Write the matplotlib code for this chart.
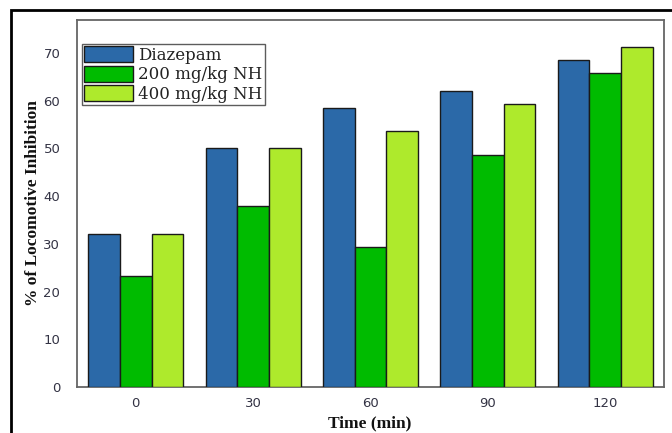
import matplotlib
matplotlib.use("Agg")
import matplotlib.pyplot as plt
import numpy as np
from matplotlib.patches import Rectangle

categories = ["0", "30", "60", "90", "120"]
diazepam = [32.1, 50.1, 58.5, 62.1, 68.6]
nh200 = [23.3, 37.9, 29.4, 48.6, 65.8]
nh400 = [32.1, 50.1, 53.7, 59.3, 71.3]
series_names = ["Diazepam", "200 mg/kg NH", "400 mg/kg NH"]
yticks = [0, 10, 20, 30, 40, 50, 60, 70]

colors = ["#2B69A8", "#00BB00", "#AEEA2C"]

W, H = 672, 433
fig = plt.figure(figsize=(W / 100, H / 100), dpi=100)
ax = fig.add_axes([77 / W, 1 - 387 / H, (664 - 77) / W, (387 - 20) / H])

x = np.arange(len(categories))
bw = 0.27
for i, (vals, name, c) in enumerate(zip([diazepam, nh200, nh400], series_names, colors)):
    ax.bar(x + (i - 1) * bw, vals, bw, color=c, edgecolor="#1a1a1a", linewidth=1.0,
           label=name, zorder=3)

ax.set_xlim(-0.5, len(categories) - 0.5)
ax.set_ylim(0, 76.9)
ax.set_xticks(x)
ax.set_xticklabels(categories, family="DejaVu Sans")
ax.set_yticks(yticks)
ax.set_yticklabels([str(v) for v in yticks], family="DejaVu Sans")
ax.tick_params(axis="both", length=0, colors="#333344", labelsize=9.5)
ax.tick_params(axis="x", pad=7)
ax.tick_params(axis="y", pad=12)
for s in ax.spines.values():
    s.set_color("#666666")
    s.set_linewidth(1.3)

ax.set_ylabel("% of Locomotive Inhibition", family="Liberation Serif", fontweight="bold",
              fontsize=12.5, color="#111111")
ax.yaxis.set_label_coords(-0.062, 0.5)
fig.text(370 / W, 1 - 423 / H, "Time (min)", family="Liberation Serif", fontweight="bold",
         fontsize=12.5, color="#111111", ha="center", va="center")

leg = ax.legend(loc="upper left", bbox_to_anchor=(0.008, 0.935), frameon=True, fancybox=False,
                prop={"family": "DejaVu Serif", "size": 12}, handlelength=2.9,
                handleheight=1.1, handletextpad=0.35, labelspacing=0.1, borderpad=0.15,
                borderaxespad=0.0)
leg.get_frame().set_edgecolor("#333333")
leg.get_frame().set_linewidth(1.0)
for t in leg.get_texts():
    t.set_color("#222222")

# outer frame of the figure
fig.patches.append(Rectangle((11 / W, -0.1), 1.2, 1 - 10 / H + 0.1, transform=fig.transFigure,
                             fill=False, edgecolor="black", linewidth=2.0))

fig.savefig("out.png", dpi=100)
